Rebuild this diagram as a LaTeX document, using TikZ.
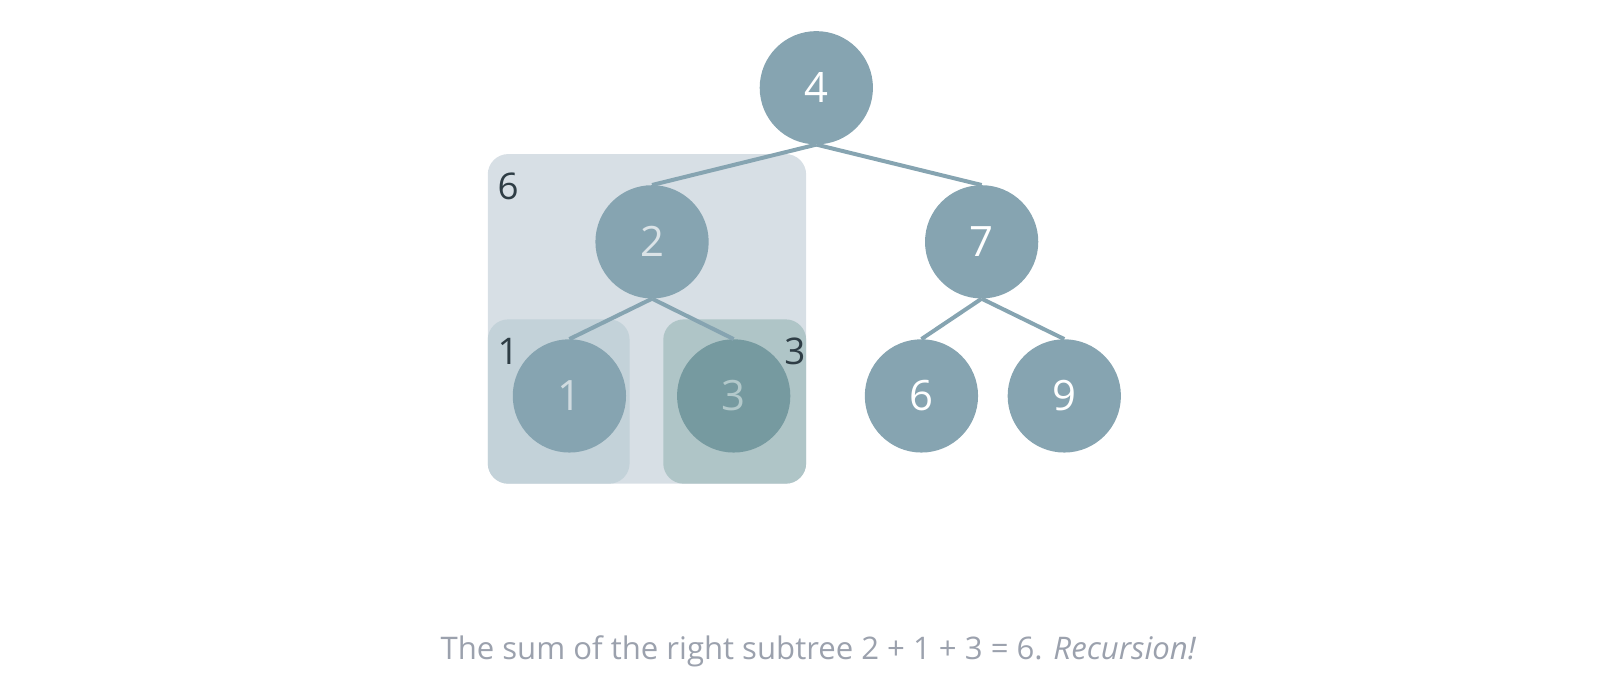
\documentclass[tikz,border=0pt]{standalone}
\usepackage{fontspec}
\setmainfont{Open Sans}
\definecolor{nodefill}{HTML}{86A4B1}
\definecolor{nodefillb}{HTML}{769AA0}
\definecolor{edgec}{HTML}{86A4B1}
\definecolor{bigbox}{HTML}{D7DFE5}
\definecolor{leftbox}{HTML}{C3D2D9}
\definecolor{rightbox}{HTML}{AFC5C7}
\definecolor{labc}{HTML}{2E3D45}
\definecolor{capc}{HTML}{9BA1AD}
\definecolor{txtb}{HTML}{DBE3E7}
\definecolor{txtc}{HTML}{D0DBE0}
\definecolor{txtd}{HTML}{B3C9CB}
\begin{document}
\begin{tikzpicture}[x=1pt,y=-1pt,
  treenode/.style={circle,fill=nodefill,minimum size=111pt,inner sep=0pt,text=white,font=\fontsize{41}{41}\selectfont},
  edge/.style={draw=edgec,line width=3.9pt},
  sumlabel/.style={text=labc,font=\fontsize{36}{36}\selectfont,inner sep=0pt},
  boxstyle/.style={rounded corners=20pt}
]
\useasboundingbox (0,0) rectangle (1568,684);
\fill[bigbox,boxstyle] (478,151) rectangle (790,474);
\fill[leftbox,boxstyle] (478,313) rectangle (617,474);
\fill[rightbox,boxstyle] (650,313) rectangle (790,474);
\node[sumlabel] (l6) at (498,183) {6};
\node[sumlabel] (l1) at (498,344) {1};
\node[sumlabel] (l3) at (779,344) {3};
\node[treenode] (n4) at (800,86) {4};
\node[treenode,text=txtb] (n2) at (639,237) {2};
\node[treenode] (n7) at (962,237) {7};
\node[treenode,text=txtc] (n1) at (558,388) {1};
\node[treenode,fill=nodefillb,text=txtd] (n3) at (719,388) {3};
\node[treenode] (n6) at (903,388) {6};
\node[treenode] (n9) at (1043,388) {9};
\draw[edge] (n4.south) -- (n2.north);
\draw[edge] (n4.south) -- (n7.north);
\draw[edge] (n2.south) -- (n1.north);
\draw[edge] (n2.south) -- (n3.north);
\draw[edge] (n7.south) -- (n6.north);
\draw[edge] (n7.south) -- (n9.north);
\node[text=capc,font=\fontsize{30.5}{30.5}\selectfont,anchor=base] (cap) at (802,646) {The sum of the right subtree 2 + 1 + 3 = 6. \textit{Recursion!}};
\end{tikzpicture}
\end{document}
